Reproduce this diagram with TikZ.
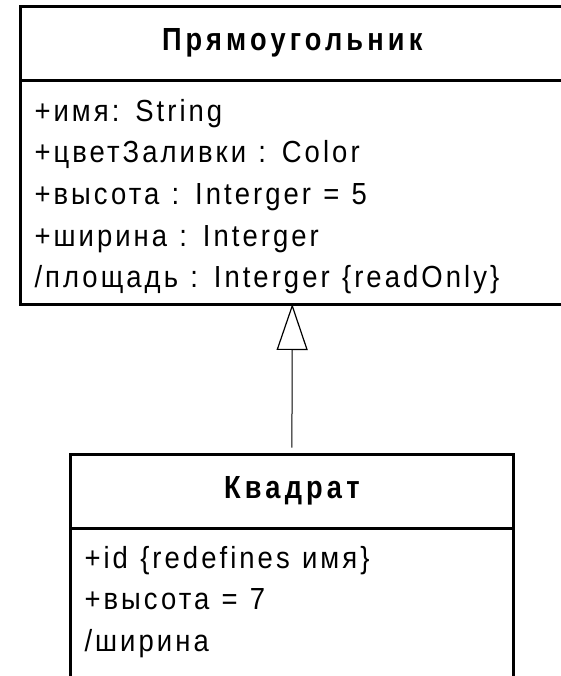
\documentclass[tikz,border=0pt]{standalone}
\usepackage{fontspec}
\newfontfamily\umlfont{Liberation Sans}[LetterSpace=10, WordSpace=1.15, FakeStretch=0.9]
\newfontfamily\umlheadfont{Liberation Sans}[LetterSpace=13, FakeStretch=0.85]
\usetikzlibrary{positioning, arrows.meta}
\tikzset{
x=1pt, y=-1pt, % one unit is one pixel of the picture, y runs down
every node/.style={outer sep=0pt}, % the parts of a class share their borders
classhead/.style={draw, line width=3pt, minimum height=74pt, text height=23pt, text depth=10pt, font=\umlheadfont\bfseries\fontsize{32}{36}\selectfont}, % name part of a class
classbody/.style={draw, line width=3pt}, % attribute part of a class
attr/.style={anchor=base west, inner sep=0pt, font=\umlfont\fontsize{30.5}{42}\selectfont}, % one attribute line
generalization/.style={-{Triangle[open, length=46pt, width=31pt, line width=1.2pt]}, line width=1pt, shorten <=7pt}, % hollow triangle head
}

\begin{document}
\begin{tikzpicture}
    \path[use as bounding box, clip] (0,0) rectangle (561,676);
    \node[classhead, minimum width=543.5pt] (recthead) at (292.25,44) {Прямоугольник};
    \node[classbody, minimum width=543.5pt, minimum height=223pt, below=0pt of recthead] (rectbody) {};
    \node[classhead, minimum width=442.8pt] (sqhead) at (291.9,491.5) {Квадрат};
    \node[classbody, minimum width=442.8pt, minimum height=180pt, below=0pt of sqhead] (sqbody) {};
    \foreach \txt [count=\i] in {{+имя: String}, {+цветЗаливки : Color}, {+высота : Interger = 5}, {+ширина : Interger}, {/площадь : Interger \{readOnly\}}}
      \node[attr] (ra\i) at ([xshift=14pt, yshift={-40.5pt-41.5pt*(\i-1)}]rectbody.north west) {\txt};
    \foreach \txt [count=\i] in {{+id \{redefines имя\}}, {+высота = 7}, {/ширина}}
      \node[attr] (sa\i) at ([xshift=14pt, yshift={-39.5pt-41.5pt*(\i-1)}]sqbody.north west) {\txt};
    \draw[generalization] (sqhead.north) -- (rectbody.south);
\end{tikzpicture}
\end{document}
